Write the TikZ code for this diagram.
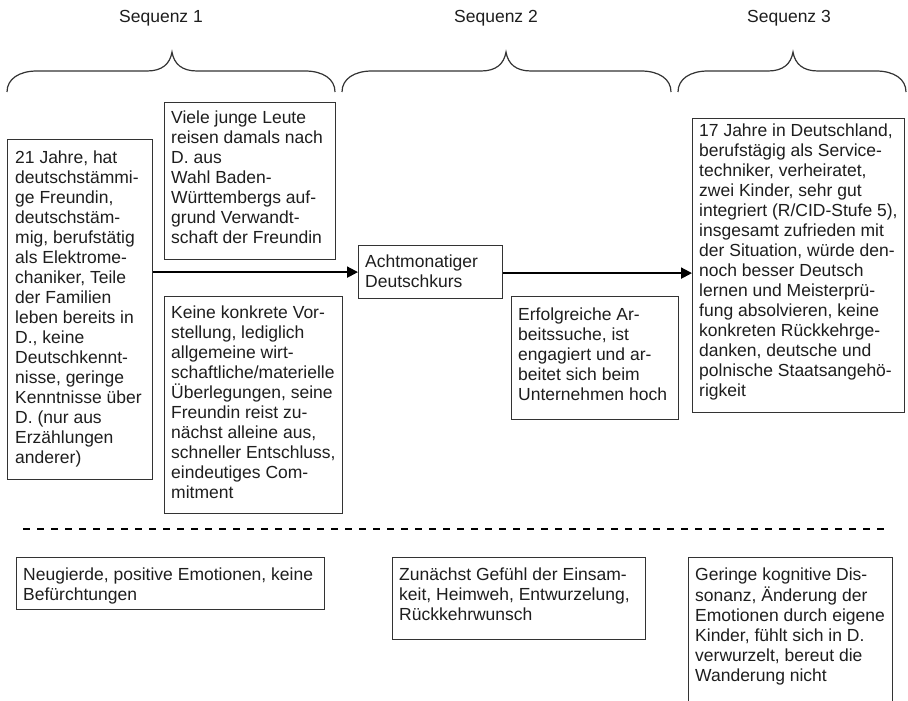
\documentclass[tikz,border=0pt]{standalone}
\usepackage{fontspec}
\setmainfont{Liberation Sans}
\usetikzlibrary{arrows.meta}
\definecolor{ink}{HTML}{1E1E1E}
\definecolor{frame}{HTML}{333333}

% curly brace opening upwards: left end x, tip x, right end x
\newcommand\seqbrace[3]{%
  \draw[bracestyle] (#1,92) .. controls (#1,79) and (#1+12,71) .. (#1+30,71)
    -- (#2-25,71) .. controls (#2-10,71) and (#2-2,64) .. (#2,52)
    .. controls (#2+2,64) and (#2+10,71) .. (#2+25,71)
    -- (#3-30,71) .. controls (#3-12,71) and (#3,79) .. (#3,92);}

\tikzset{
  box/.style={draw=frame, line width=1.2pt, rectangle, inner sep=0pt,
    anchor=north west},
  txt/.style={anchor=north west, inner sep=0pt, align=left, text=ink,
    font=\fontsize{17.5}{20}\selectfont},
  seqlabel/.style={anchor=base, inner sep=0pt, text=ink,
    font=\fontsize{17.5}{20}\selectfont},
  bracestyle/.style={draw=frame, line width=1.2pt},
  flow/.style={draw=black, line width=2pt, -{Triangle[length=11pt,width=11pt]}},
  divider/.style={draw=black, line width=2pt, dash pattern=on 7pt off 7pt}
}

\begin{document}
\begin{tikzpicture}[x=1pt, y=-1pt]
\clip (0,0) rectangle (908,701);
\fill[white] (0,0) rectangle (908,701);

% sequence headings and braces
\node[seqlabel] (s1) at (161,23) {Sequenz 1};
\node[seqlabel] (s2) at (496,23) {Sequenz 2};
\node[seqlabel] (s3) at (789,23) {Sequenz 3};
\seqbrace{7}{172}{335}
\seqbrace{342}{506}{671}
\seqbrace{678}{793}{906}

% frames
\node[box, minimum width=145, minimum height=340] (A) at (7,139) {};
\node[box, minimum width=171, minimum height=157] (B) at (164,102) {};
\node[box, minimum width=178, minimum height=217] (C) at (164,296) {};
\node[box, minimum width=144, minimum height=53] (D) at (358,245) {};
\node[box, minimum width=167, minimum height=123] (E) at (511,296) {};
\node[box, minimum width=212, minimum height=294] (F) at (692,118) {};
\node[box, minimum width=308, minimum height=52] (G) at (16,557) {};
\node[box, minimum width=253, minimum height=82] (H) at (392,557) {};
\node[box, minimum width=204, minimum height=180] (I) at (688,557) {};

% texts
\node[txt] (At) at (15,149) {\strut 21 Jahre, hat\\deutschstämmi-\\ge Freundin,\\deutschstäm-\\mig, berufstätig\\als Elektrome-\\chaniker, Teile\\der Familien\\leben bereits in\\D., keine\\Deutschkennt-\\nisse, geringe\\Kenntnisse über\\D. (nur aus\\Erzählungen\\anderer)};
\node[txt] (Bt) at (171,109) {\strut Viele junge Leute\\reisen damals nach\\D. aus\\Wahl Baden-\\Württembergs auf-\\grund Verwandt-\\schaft der Freundin};
\node[txt] (Ct) at (171,304) {\strut Keine konkrete Vor-\\stellung, lediglich\\allgemeine wirt-\\schaftliche/materielle\\Überlegungen, seine\\Freundin reist zu-\\nächst alleine aus,\\schneller Entschluss,\\eindeutiges Com-\\mitment};
\node[txt] (Dt) at (365,253) {\strut Achtmonatiger\\Deutschkurs};
\node[txt] (Et) at (518,306) {\strut Erfolgreiche Ar-\\beitssuche, ist\\engagiert und ar-\\beitet sich beim\\Unternehmen hoch};
\node[txt] (Ft) at (699,122) {\strut 17 Jahre in Deutschland,\\berufstägig als Service-\\techniker, verheiratet,\\zwei Kinder, sehr gut\\integriert (R/CID-Stufe 5),\\insgesamt zufrieden mit\\der Situation, würde den-\\noch besser Deutsch\\lernen und Meisterprü-\\fung absolvieren, keine\\konkreten Rückkehrge-\\danken, deutsche und\\polnische Staatsangehö-\\rigkeit};
\node[txt] (Gt) at (23,566) {\strut Neugierde, positive Emotionen, keine\\Befürchtungen};
\node[txt] (Ht) at (399,566) {\strut Zunächst Gefühl der Einsam-\\keit, Heimweh, Entwurzelung,\\Rückkehrwunsch};
\node[txt] (It) at (695,566) {\strut Geringe kognitive Dis-\\sonanz, Änderung der\\Emotionen durch eigene\\Kinder, fühlt sich in D.\\verwurzelt, bereut die\\Wanderung nicht};

% flow arrows
\draw[flow] (A.east |- D.west) -- (D.west);
\draw[flow] ([yshift=-1pt]D.east) -- ([yshift=-1pt]D.east -| F.west);

% separator between course and emotions
\coordinate (dl) at (23,529);
\coordinate (dr) at (886,529);
\draw[divider] (dl) -- (dr);
\end{tikzpicture}
\end{document}
